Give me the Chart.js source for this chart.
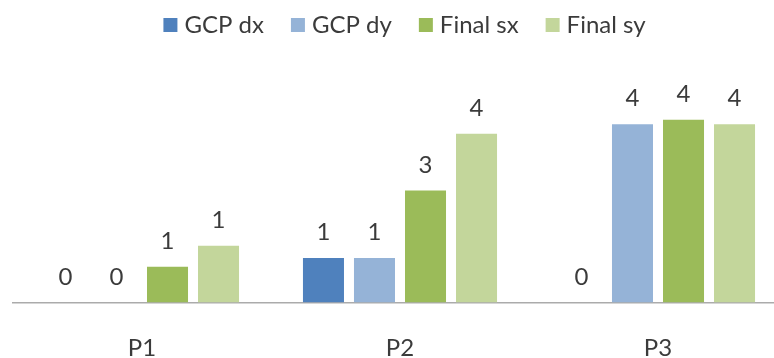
<!DOCTYPE html>
<html>
<head>
<meta charset="utf-8">
<script src="https://cdn.jsdelivr.net/npm/chart.js@4/dist/chart.umd.min.js"></script>
<style>
  html, body { margin: 0; padding: 0; background: #ffffff; overflow: hidden; }
  #wrap { width: 809px; height: 358px; }
</style>
</head>
<body>
<div id="wrap"><canvas id="chart" width="809" height="358"></canvas></div>
<script>
// Categories and series
const categories = ['P1', 'P2', 'P3'];
const gcpDx   = [0,    1.05, 0];
const gcpDy   = [0,    1.05, 4.20];
const finalSx = [0.84, 2.64, 4.31];
const finalSy = [1.34, 3.98, 4.20];

const seriesNames  = ['GCP dx', 'GCP dy', 'Final sx', 'Final sy'];
const seriesColors = ['#4F81BD', '#95B3D7', '#9BBB59', '#C3D69B'];
const seriesData   = [gcpDx, gcpDy, finalSx, finalSy];

const FONT = 'Lato, "Noto Sans", sans-serif';
const TEXT = '#3b3b3b';

// Rounded value printed above each bar
const valueLabels = {
  id: 'valueLabels',
  afterDatasetsDraw(chart) {
    const ctx = chart.ctx;
    ctx.save();
    ctx.font = '24px ' + FONT;
    ctx.fillStyle = TEXT;
    ctx.textAlign = 'center';
    ctx.textBaseline = 'alphabetic';
    chart.data.datasets.forEach((ds, i) => {
      chart.getDatasetMeta(i).data.forEach((bar, j) => {
        const v = ds.data[j];
        ctx.fillText(String(Math.round(v)), bar.x, bar.y - 18);
      });
    });
    ctx.restore();
  }
};

// Single-row legend centred across the top of the canvas
const topLegend = {
  id: 'topLegend',
  afterDraw(chart) {
    const ctx = chart.ctx;
    const box = 14, textGap = 7, itemGap = 27, midY = 25;
    ctx.save();
    ctx.font = '24px ' + FONT;
    const items = chart.data.datasets.map(ds => ({
      text: ds.label, color: ds.backgroundColor, w: ctx.measureText(ds.label).width
    }));
    const total = items.reduce((s, it) => s + box + textGap + it.w, 0) + itemGap * (items.length - 1);
    let x = chart.width / 2 - total / 2;
    ctx.textAlign = 'left';
    ctx.textBaseline = 'middle';
    items.forEach(it => {
      ctx.fillStyle = it.color;
      ctx.fillRect(x, midY - box / 2, box, box);
      ctx.fillStyle = TEXT;
      ctx.fillText(it.text, x + box + textGap, midY);
      x += box + textGap + it.w + itemGap;
    });
    ctx.restore();
  }
};

new Chart(document.getElementById('chart'), {
  type: 'bar',
  data: {
    labels: categories,
    datasets: seriesData.map((d, i) => ({
      label: seriesNames[i],
      data: d,
      backgroundColor: seriesColors[i],
      borderWidth: 0,
      categoryPercentage: 0.791,
      barPercentage: 0.804
    }))
  },
  options: {
    responsive: false,
    animation: false,
    layout: { padding: { left: 13, right: 22, top: 48, bottom: 0 } },
    plugins: {
      legend: { display: false },
      tooltip: { enabled: false }
    },
    scales: {
      x: {
        grid: { display: false, drawTicks: false },
        border: { display: true, color: '#ABABAB', width: 1.5 },
        ticks: { font: { family: FONT, size: 24 }, color: TEXT, padding: 31 },
        afterFit(scale) { scale.height = 55.5; }
      },
      y: {
        display: false,
        min: 0,
        max: 6
      }
    }
  },
  plugins: [valueLabels, topLegend]
});
</script>
</body>
</html>
